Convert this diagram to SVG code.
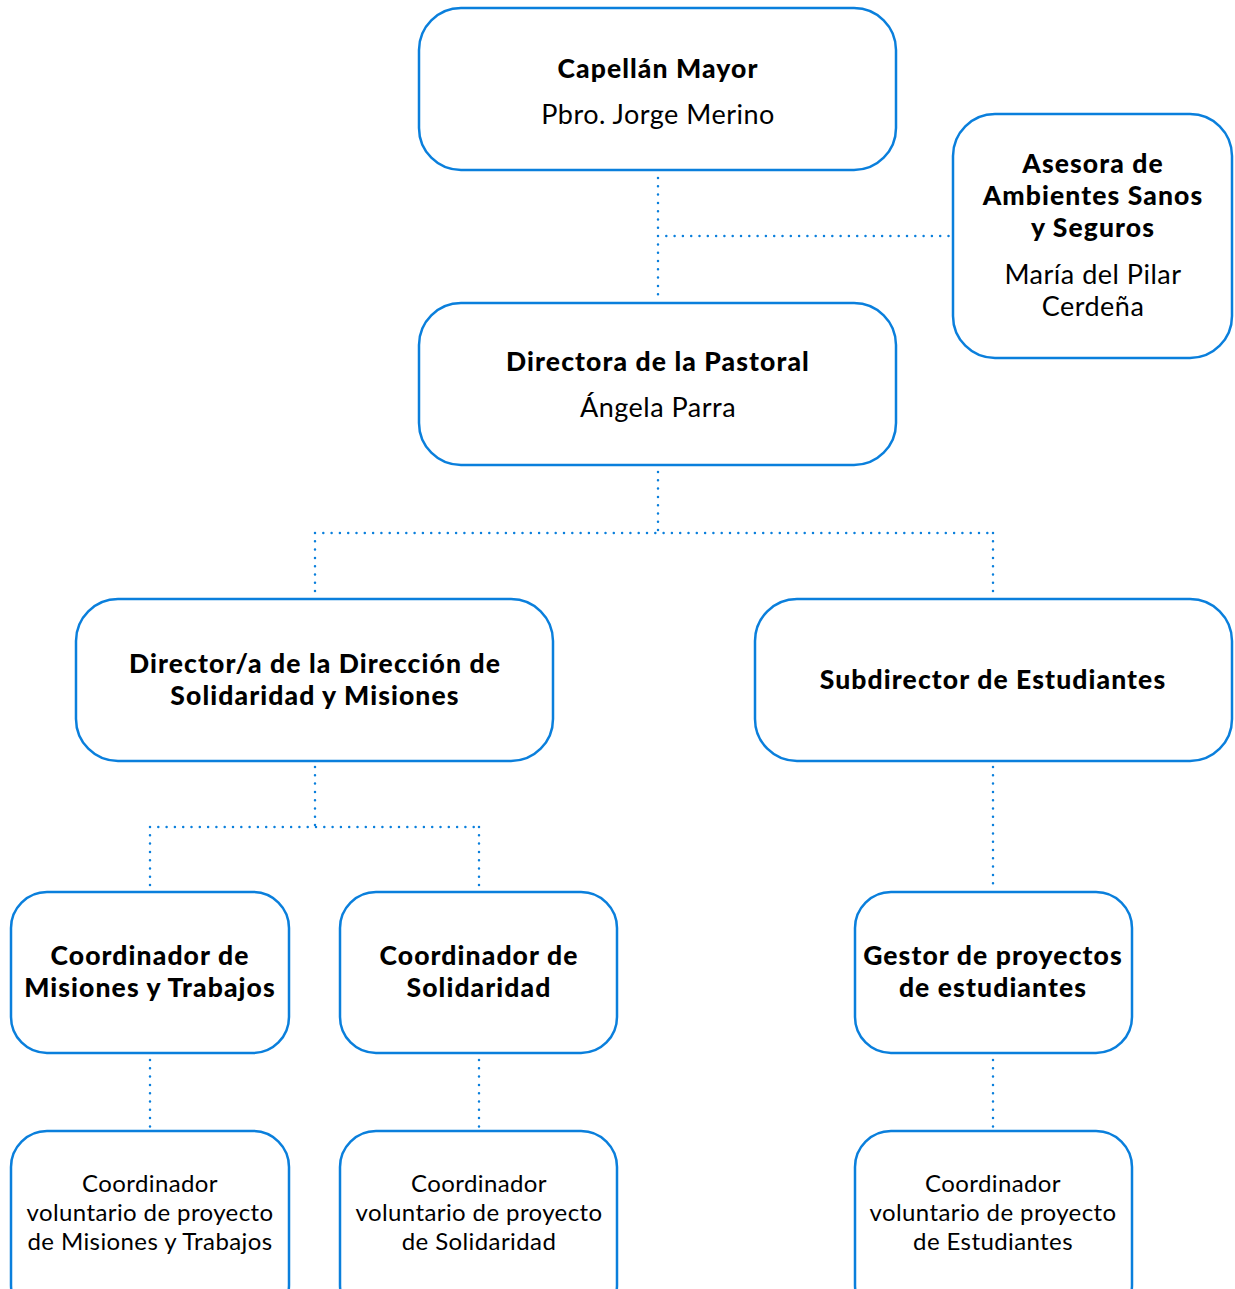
<svg xmlns="http://www.w3.org/2000/svg" width="1235" height="1289" viewBox="0 0 1235 1289">
<style>
.box{fill:#fff;stroke:#0a7fdc;stroke-width:2.5}
.con{fill:none;stroke:#0a7fdc;stroke-width:2.5;stroke-dasharray:0 8.3;stroke-linecap:round}
text{font-family:Lato,"Noto Sans","Liberation Sans",sans-serif;text-anchor:middle;fill:#000}
.b{font-weight:900;font-size:26.5px;letter-spacing:1.1px}
.r{font-size:27px;letter-spacing:0.5px}
.s{font-size:24px;letter-spacing:0.4px}
</style>
<rect width="1235" height="1289" fill="#fff"/>
<g id="connectors">
<path class="con" d="M658 178V298M658 236H950"/>
<path class="con" d="M658 472V533M315 533H993M315 533V595M993 533V595"/>
<path class="con" d="M315 767V827M150 827H479M150 827V888M479 827V888"/>
<path class="con" d="M993 767V888"/>
<path class="con" d="M150 1060V1127M479 1060V1127M993 1060V1127"/>
</g>
<g id="capellan">
<rect class="box" x="419" y="8" width="477" height="162" rx="42"/>
<text class="b" x="658" y="78">Capellán Mayor</text>
<text class="r" x="658" y="124">Pbro. Jorge Merino</text>
</g>
<g id="asesora">
<rect class="box" x="953" y="114" width="279" height="244" rx="42"/>
<text class="b" x="1093" y="173">Asesora de</text>
<text class="b" x="1093" y="205">Ambientes Sanos</text>
<text class="b" x="1093" y="237">y Seguros</text>
<text class="r" x="1093" y="284">María del Pilar</text>
<text class="r" x="1093" y="316">Cerdeña</text>
</g>
<g id="directora">
<rect class="box" x="419" y="303" width="477" height="162" rx="42"/>
<text class="b" x="658" y="371">Directora de la Pastoral</text>
<text class="r" x="658" y="417">Ángela Parra</text>
</g>
<g id="director-solidaridad">
<rect class="box" x="76" y="599" width="477" height="162" rx="42"/>
<text class="b" x="315" y="673">Director/a de la Dirección de</text>
<text class="b" x="315" y="705">Solidaridad y Misiones</text>
</g>
<g id="subdirector">
<rect class="box" x="755" y="599" width="477" height="162" rx="42"/>
<text class="b" x="993" y="689">Subdirector de Estudiantes</text>
</g>
<g id="coord-misiones">
<rect class="box" x="11" y="892" width="278" height="161" rx="36"/>
<text class="b" x="150" y="965">Coordinador de</text>
<text class="b" x="150" y="997">Misiones y Trabajos</text>
</g>
<g id="coord-solidaridad">
<rect class="box" x="340" y="892" width="277" height="161" rx="36"/>
<text class="b" x="479" y="965">Coordinador de</text>
<text class="b" x="479" y="997">Solidaridad</text>
</g>
<g id="gestor">
<rect class="box" x="855" y="892" width="277" height="161" rx="36"/>
<text class="b" x="993" y="965">Gestor de proyectos</text>
<text class="b" x="993" y="997">de estudiantes</text>
</g>
<g id="vol-misiones">
<rect class="box" x="11" y="1131" width="278" height="190" rx="36"/>
<text class="s" x="150" y="1192">Coordinador</text>
<text class="s" x="150" y="1221">voluntario de proyecto</text>
<text class="s" x="150" y="1250">de Misiones y Trabajos</text>
</g>
<g id="vol-solidaridad">
<rect class="box" x="340" y="1131" width="277" height="190" rx="36"/>
<text class="s" x="479" y="1192">Coordinador</text>
<text class="s" x="479" y="1221">voluntario de proyecto</text>
<text class="s" x="479" y="1250">de Solidaridad</text>
</g>
<g id="vol-estudiantes">
<rect class="box" x="855" y="1131" width="277" height="190" rx="36"/>
<text class="s" x="993" y="1192">Coordinador</text>
<text class="s" x="993" y="1221">voluntario de proyecto</text>
<text class="s" x="993" y="1250">de Estudiantes</text>
</g>
</svg>
